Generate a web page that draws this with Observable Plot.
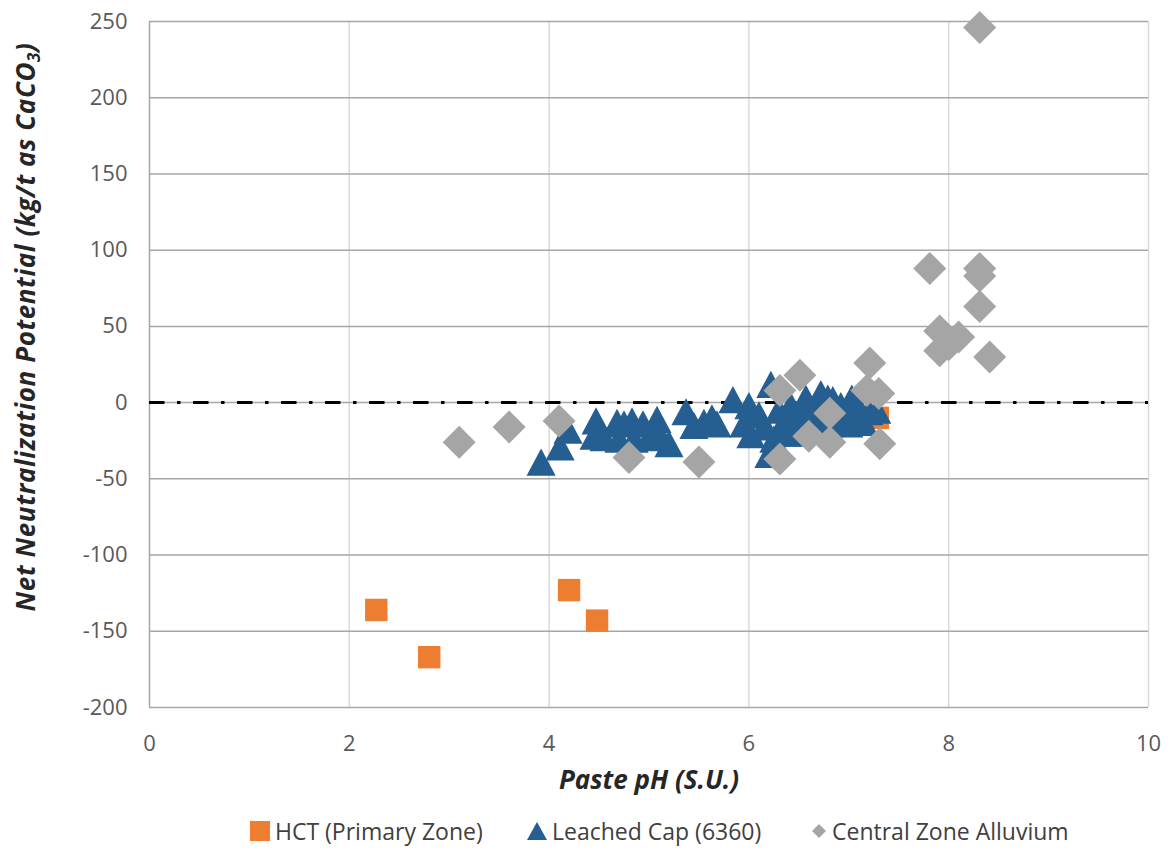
<!DOCTYPE html>
<html><head><meta charset="utf-8">
<script src="https://cdn.jsdelivr.net/npm/d3@7"></script>
<script src="https://cdn.jsdelivr.net/npm/@observablehq/plot@0.6"></script>
<style>
body{margin:0;background:#fff;font-family:"Open Sans",sans-serif}
#wrap{position:relative;width:1174px;height:851px}
#legend{position:absolute;left:0;top:817px;width:1174px;height:28px;font-size:23px;color:#404040}
.item{position:absolute;top:0;display:flex;align-items:center;height:28px;white-space:nowrap}
.item svg{margin-right:5px}
</style>
</head><body>
<div id="wrap"><div id="chart"></div><div id="legend"></div></div>
<script>
// ---- data ----
const seriesNames = ["HCT (Primary Zone)", "Leached Cap (6360)", "Central Zone Alluvium"];
const seriesColors = ["#ED7D31", "#255E91", "#A5A5A5"];
const xTicks = [0, 2, 4, 6, 8, 10];
const yTicks = [-200, -150, -100, -50, 0, 50, 100, 150, 200, 250];
const xTitle = "Paste pH (S.U.)";

const hctPoints = [[2.27,-136],[2.8,-167],[4.2,-123],[4.48,-143],[7.29,-10]];
const leachedPoints = [
  [3.92,-39],[4.11,-29],[4.19,-18],[4.47,-12],[4.45,-22],[4.55,-23],[4.68,-13],[4.7,-24],
  [4.75,-14],[4.83,-12],[4.85,-24],[4.94,-14],[5.0,-23],[5.08,-11],[5.1,-20],[5.2,-27],
  [5.37,-6],[5.45,-15],[5.55,-13],[5.63,-10],[5.68,-14],[5.84,2],[5.95,-14],[6.0,-2],
  [6.02,-21],[6.1,-8],[6.15,-16],[6.2,-34],[6.22,12],[6.25,-24],[6.3,-5],[6.35,-13],
  [6.38,-20],[6.42,-2],[6.47,-9],[6.5,-20],[6.55,-5],[6.57,3],[6.6,-14],[6.65,-6],
  [6.72,6],[6.75,-10],[6.79,3],[6.84,2],[6.8,-14],[6.92,-2],[6.95,-9],[7.0,-14],
  [7.03,3],[7.07,0],[7.1,-8],[7.15,-13],[7.2,-6],[7.28,-5]
];
const czaPoints = [
  [8.31,246],[7.81,88],[8.31,88],[8.31,83],[8.31,63],[7.91,47],[8.1,43],[8.0,38],[7.91,34],
  [8.41,30],[7.21,26],[6.51,18],[6.31,8],[7.18,8],[7.3,6],[6.81,-7],[6.6,-22],[6.81,-26],
  [6.31,-37],[7.31,-27],[5.5,-39],[4.8,-36],[4.1,-12],[3.6,-16],[3.1,-26]
];

// ---- symbols shaped like the spreadsheet markers (centred on their box) ----
const squareSym = {draw(c, s){const r=Math.sqrt(s/Math.PI);c.moveTo(-r,-r);c.lineTo(r,-r);c.lineTo(r,r);c.lineTo(-r,r);c.closePath();}};
const triSym = {draw(c, s){const r=Math.sqrt(s/Math.PI);const w=r*1.04,h=r*0.97;c.moveTo(0,-h);c.lineTo(w,h);c.lineTo(-w,h);c.closePath();}};
const diaSym = {draw(c, s){const r=Math.sqrt(s/Math.PI);c.moveTo(0,-r);c.lineTo(r,0);c.lineTo(0,r);c.lineTo(-r,0);c.closePath();}};

const toRows = pts => pts.map(([x,y]) => ({x, y}));
const fmt = d => String(d);

const plot = Plot.plot({
  width: 1174, height: 812,
  marginLeft: 149, marginRight: 26, marginTop: 21, marginBottom: 105,
  style: {fontFamily: '"Open Sans", sans-serif', background: "#fff"},
  x: {domain: [0, 10]},
  y: {domain: [-200, 250]},
  marks: [
    Plot.ruleX(xTicks.filter(d => d > 0), {stroke: "#d9d9d9", strokeWidth: 1.5}),
    Plot.ruleY(yTicks, {stroke: "#a6a6a6", strokeWidth: 1.5}),
    Plot.ruleX([0], {stroke: "#a6a6a6", strokeWidth: 1.5}),
    Plot.ruleY([0], {stroke: "#000", strokeWidth: 3, strokeDasharray: "15.5 12.5 3.5 12.5"}),
    Plot.dot(toRows(hctPoints), {x: "x", y: "y", r: 11.2, symbol: squareSym, fill: seriesColors[0]}),
    Plot.dot(toRows(leachedPoints), {x: "x", y: "y", r: 14, symbol: triSym, fill: seriesColors[1]}),
    Plot.dot(toRows(czaPoints), {x: "x", y: "y", r: 16.5, symbol: diaSym, fill: seriesColors[2]}),
    Plot.axisX({ticks: xTicks, tickFormat: fmt, tickSize: 0, tickPadding: 28, fontSize: 22, fill: "#595959", label: null}),
    Plot.axisY({ticks: yTicks, tickFormat: fmt, tickSize: 0, tickPadding: 22, fontSize: 22, fill: "#595959", label: null}),
    Plot.text([xTitle], {frameAnchor: "bottom", dy: 81, fontSize: 26, fontWeight: "bold", fontStyle: "italic", fill: "#262626"})
  ]
});
document.getElementById("chart").appendChild(plot);

// y title with subscript
const yt = d3.select(plot).append("text")
  .attr("transform", "translate(28,327) rotate(-90)")
  .attr("text-anchor", "middle")
  .attr("dominant-baseline", "middle")
  .attr("font-size", 26).attr("font-weight", "bold").attr("font-style", "italic")
  .attr("letter-spacing", 0.6)
  .attr("fill", "#262626");
yt.append("tspan").text("Net Neutralization Potential (kg/t as CaCO");
yt.append("tspan").attr("dy", 7).attr("font-size", 17).text("3");
yt.append("tspan").attr("dy", -7).text(")");

// legend
const legendLefts = [250, 527, 811];
const legendShapes = [
  '<svg width="20" height="20"><rect x="0" y="0" width="20" height="20" fill="#ED7D31"/></svg>',
  '<svg width="20" height="20"><path d="M10,1 L20,19 L0,19 Z" fill="#255E91"/></svg>',
  '<svg width="16" height="20"><path d="M8,3 L15,10 L8,17 L1,10 Z" fill="#A5A5A5"/></svg>'
];
const legend = document.getElementById("legend");
seriesNames.forEach((name, i) => {
  const d = document.createElement("div");
  d.className = "item";
  d.style.left = legendLefts[i] + "px";
  d.innerHTML = legendShapes[i] + "<span>" + name + "</span>";
  legend.appendChild(d);
});
</script>
</body></html>
